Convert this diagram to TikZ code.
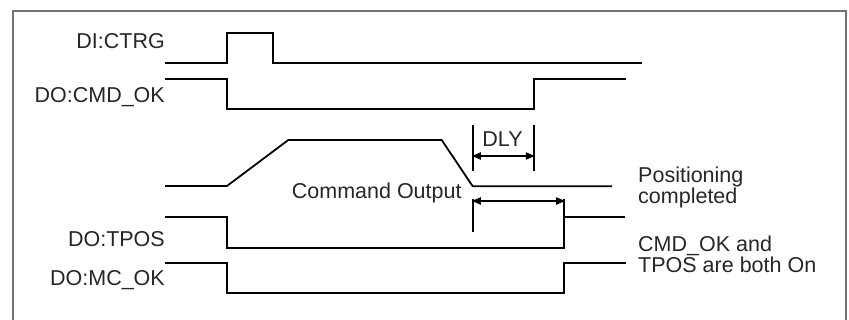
\documentclass[tikz,border=0pt]{standalone}
\usepackage{fontspec}
\setmainfont{Liberation Sans}
\usetikzlibrary{arrows.meta}
\begin{document}
\begin{tikzpicture}[x=1pt,y=-1pt,
  sig/.style={line width=1.8pt, line join=miter, line cap=butt},
  lbl/.style={font=\fontsize{21.5}{21.5}\selectfont, inner sep=0pt, text=black!85},
  tip/.tip={Triangle[length=9pt,width=7pt]},
  dimarrow/.style={line width=1.8pt, {tip}-{tip}, shorten <=-0.9pt, shorten >=-0.9pt},
  frameline/.style={draw=black!55, line width=1.1pt}]
\useasboundingbox (0,0) rectangle (849,320);
\draw[frameline] (13,321) -- (13,11) -- (846,11) -- (846,321);

% left labels
\node[lbl, anchor=base east] (lctrg) at (165,48.5) {DI:CTRG};
\node[lbl, anchor=base east] (lcmd) at (165,103) {DO:CMD\_OK};
\node[lbl, anchor=base east] (ltpos) at (165,247) {DO:TPOS};
\node[lbl, anchor=base east] (lmc) at (165,286) {DO:MC\_OK};

% other labels
\node[lbl, anchor=base west] (lout) at (291.7,198.3) {Command Output};
\node[lbl, anchor=base] (ldly) at (502.5,146.7) {DLY};
\node[lbl, anchor=base west, align=left] (lposc) at (638,204) {Positioning\\completed};
\node[lbl, anchor=base west, align=left] (lboth) at (638,273) {CMD\_OK and\\TPOS are both On};

% signals
\draw[sig] (165,62.7) -- (227,62.7) -- (227,32.7) -- (273,32.7) -- (273,62.7) -- (642,62.7);
\draw[sig] (165,79) -- (227,79) -- (227,109.3) -- (534,109.3) -- (534,79) -- (626,79);
\draw[sig] (165,186) -- (227,186) -- (288.3,140) -- (441.7,140) -- (472.7,186.3) -- (612,186.3);
\draw[sig] (165,216.7) -- (227,216.7) -- (227,247.7) -- (564.3,247.7) -- (564.3,199.5);
\draw[sig] (564.3,216.7) -- (625,216.7);
\draw[sig] (165,262.7) -- (227,262.7) -- (227,293.3) -- (564.3,293.3) -- (564.3,262.7) -- (626,262.7);

% DLY dimension
\coordinate (d1t) at (472.7,125);
\coordinate (d1b) at (472.7,171);
\coordinate (d2t) at (534,125);
\coordinate (d2b) at (534,171);
\draw[sig] (d1t) -- (d1b);
\draw[sig] (d2t) -- (d2b);
\coordinate (da) at (472.7,156);
\coordinate (db) at (534,156);
\draw[dimarrow] (da) -- (db);

% positioning dimension
\coordinate (p1t) at (472.7,199.5);
\coordinate (p1b) at (472.7,232);
\draw[sig] (p1t) -- (p1b);
\coordinate (pa) at (472.7,201);
\coordinate (pb) at (564.3,201);
\draw[dimarrow] (pa) -- (pb);
\end{tikzpicture}
\end{document}
